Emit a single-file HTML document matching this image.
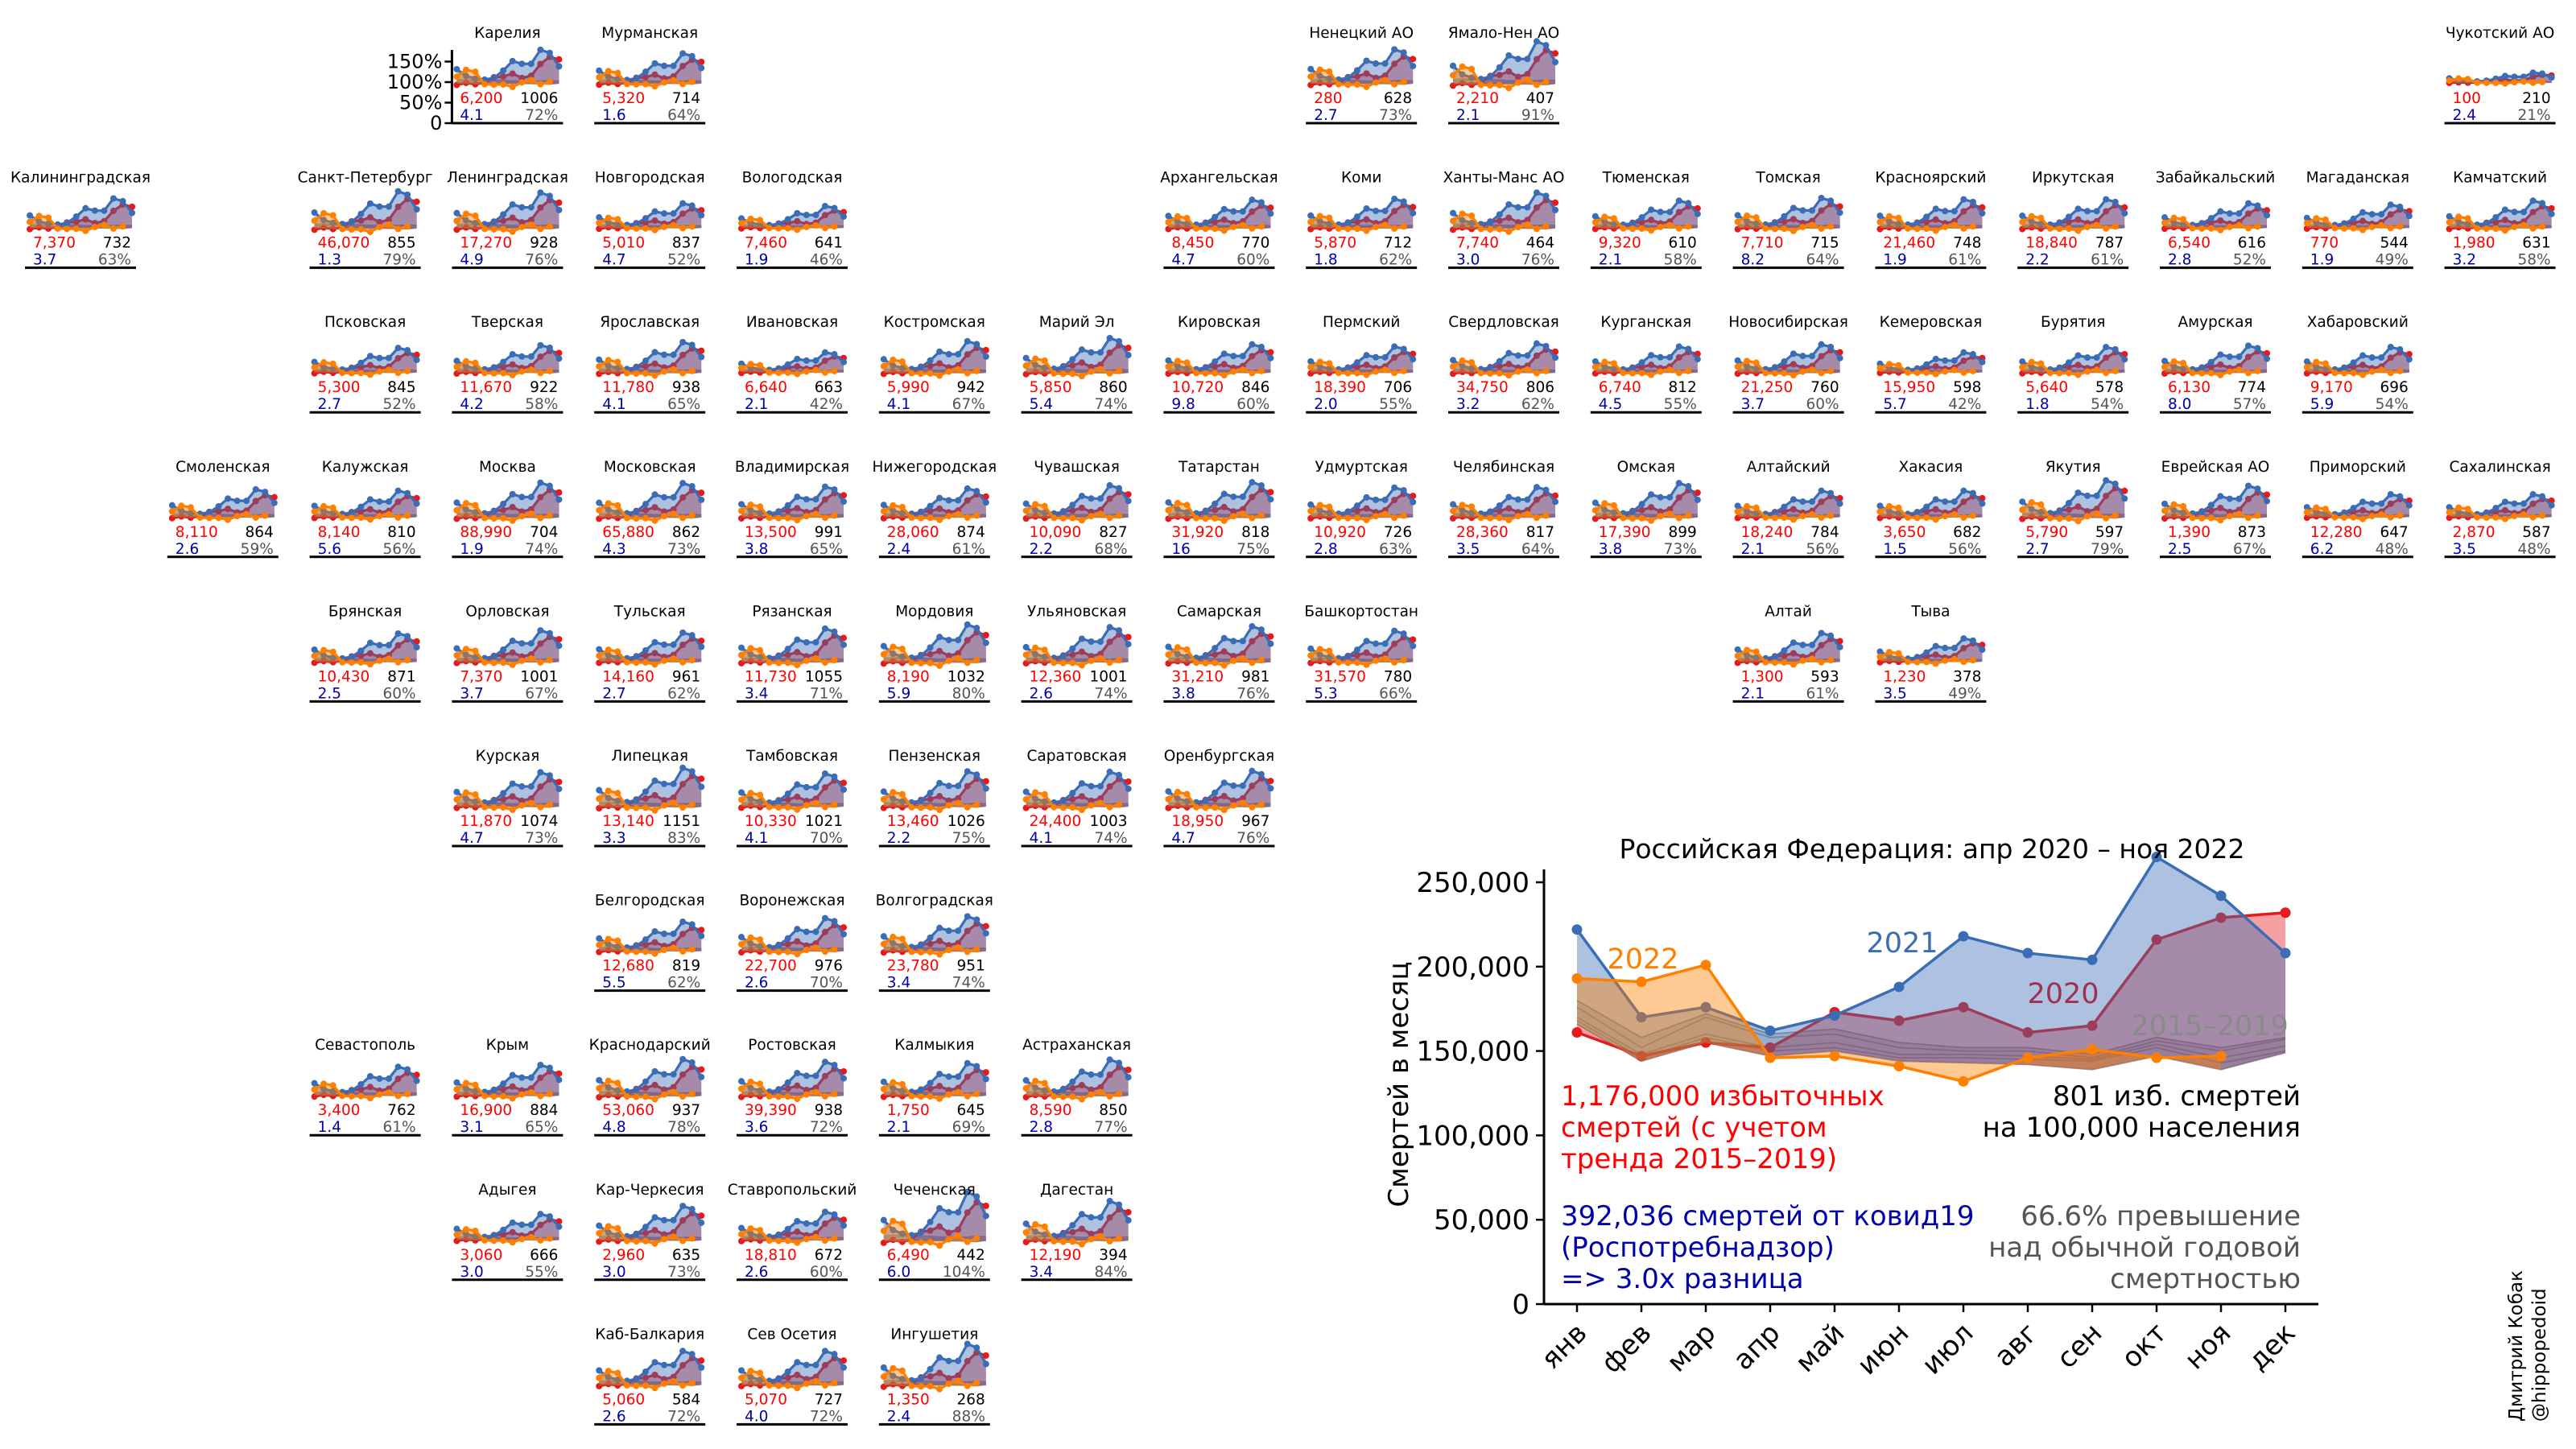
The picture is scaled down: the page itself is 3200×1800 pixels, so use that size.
<!DOCTYPE html>
<html><head><meta charset="utf-8">
<style>
html,body{margin:0;padding:0;background:#fff;}
svg{display:block;font-family:"DejaVu Sans","Liberation Sans",sans-serif;}
</style></head>
<body>
<svg id="root" width="3200" height="1800" viewBox="0 0 3200 1800" xmlns="http://www.w3.org/2000/svg"></svg>
<script>
// ---------- main chart data (thousands of deaths per month) ----------
const months=['янв','фев','мар','апр','май','июн','июл','авг','сен','окт','ноя','дек'];
const y2020=[161,147,155,152,173,168,176,161,165,216,229,232];
const y2021=[222,170,176,162,171,188,218,208,204,265,242,208];
const y2022=[193,191,201,146,147,141,132,146,151,146,147];
const b2015=[180,158,172,160,163,155,152,152,148,158,152,158];
const b2016=[176,152,170,158,160,152,150,150,146,156,150,157];
const b2017=[170,148,160,152,155,148,148,147,145,154,146,153];
const b2018=[168,146,158,150,152,146,146,145,144,152,143,150];
const b2019=[166,144,155,147,150,144,143,142,139,147,139,149];
const yTicks=[0,50000,100000,150000,200000,250000];
const yTickLabels=['0','50,000','100,000','150,000','200,000','250,000'];

// ---------- regions ----------
const regionNames=['Карелия','Мурманская','Ненецкий АО','Ямало-Нен АО','Чукотский АО',
'Калининградская','Санкт-Петербург','Ленинградская','Новгородская','Вологодская','Архангельская','Коми','Ханты-Манс АО','Тюменская','Томская','Красноярский','Иркутская','Забайкальский','Магаданская','Камчатский',
'Псковская','Тверская','Ярославская','Ивановская','Костромская','Марий Эл','Кировская','Пермский','Свердловская','Курганская','Новосибирская','Кемеровская','Бурятия','Амурская','Хабаровский',
'Смоленская','Калужская','Москва','Московская','Владимирская','Нижегородская','Чувашская','Татарстан','Удмуртская','Челябинская','Омская','Алтайский','Хакасия','Якутия','Еврейская АО','Приморский','Сахалинская',
'Брянская','Орловская','Тульская','Рязанская','Мордовия','Ульяновская','Самарская','Башкортостан','Алтай','Тыва',
'Курская','Липецкая','Тамбовская','Пензенская','Саратовская','Оренбургская',
'Белгородская','Воронежская','Волгоградская',
'Севастополь','Крым','Краснодарский','Ростовская','Калмыкия','Астраханская',
'Адыгея','Кар-Черкесия','Ставропольский','Чеченская','Дагестан',
'Каб-Балкария','Сев Осетия','Ингушетия'];
const regionCol=[3,4,9,10,17, 0,2,3,4,5,8,9,10,11,12,13,14,15,16,17, 2,3,4,5,6,7,8,9,10,11,12,13,14,15,16, 1,2,3,4,5,6,7,8,9,10,11,12,13,14,15,16,17, 2,3,4,5,6,7,8,9,12,13, 3,4,5,6,7,8, 4,5,6, 2,3,4,5,6,7, 3,4,5,6,7, 4,5,6];
const regionRow=[0,0,0,0,0, 1,1,1,1,1,1,1,1,1,1,1,1,1,1,1, 2,2,2,2,2,2,2,2,2,2,2,2,2,2,2, 3,3,3,3,3,3,3,3,3,3,3,3,3,3,3,3,3, 4,4,4,4,4,4,4,4,4,4, 5,5,5,5,5,5, 6,6,6, 7,7,7,7,7,7, 8,8,8,8,8, 9,9,9];
const regionExcess=['6,200','5,320','280','2,210','100','7,370','46,070','17,270','5,010','7,460','8,450','5,870','7,740','9,320','7,710','21,460','18,840','6,540','770','1,980','5,300','11,670','11,780','6,640','5,990','5,850','10,720','18,390','34,750','6,740','21,250','15,950','5,640','6,130','9,170','8,110','8,140','88,990','65,880','13,500','28,060','10,090','31,920','10,920','28,360','17,390','18,240','3,650','5,790','1,390','12,280','2,870','10,430','7,370','14,160','11,730','8,190','12,360','31,210','31,570','1,300','1,230','11,870','13,140','10,330','13,460','24,400','18,950','12,680','22,700','23,780','3,400','16,900','53,060','39,390','1,750','8,590','3,060','2,960','18,810','6,490','12,190','5,060','5,070','1,350'];
const regionPer100k=[1006,714,628,407,210,732,855,928,837,641,770,712,464,610,715,748,787,616,544,631,845,922,938,663,942,860,846,706,806,812,760,598,578,774,696,864,810,704,862,991,874,827,818,726,817,899,784,682,597,873,647,587,871,1001,961,1055,1032,1001,981,780,593,378,1074,1151,1021,1026,1003,967,819,976,951,762,884,937,938,645,850,666,635,672,442,394,584,727,268];
const regionRatio=['4.1','1.6','2.7','2.1','2.4','3.7','1.3','4.9','4.7','1.9','4.7','1.8','3.0','2.1','8.2','1.9','2.2','2.8','1.9','3.2','2.7','4.2','4.1','2.1','4.1','5.4','9.8','2.0','3.2','4.5','3.7','5.7','1.8','8.0','5.9','2.6','5.6','1.9','4.3','3.8','2.4','2.2','16','2.8','3.5','3.8','2.1','1.5','2.7','2.5','6.2','3.5','2.5','3.7','2.7','3.4','5.9','2.6','3.8','5.3','2.1','3.5','4.7','3.3','4.1','2.2','4.1','4.7','5.5','2.6','3.4','1.4','3.1','4.8','3.6','2.1','2.8','3.0','3.0','2.6','6.0','3.4','2.6','4.0','2.4'];
const regionPct=[72,64,73,91,21,63,79,76,52,46,60,62,76,58,64,61,61,52,49,58,52,58,65,42,67,74,60,55,62,55,60,42,54,57,54,59,56,74,73,65,61,68,75,63,64,73,56,56,79,67,48,48,60,67,62,71,80,74,76,66,61,49,73,83,70,75,74,76,62,70,74,61,65,78,72,69,77,55,73,60,104,84,72,72,88];

const NS='http://www.w3.org/2000/svg';
const root=document.getElementById('root');
function mk(tag,attrs,parent,text){const e=document.createElementNS(NS,tag);for(const k in attrs)e.setAttribute(k,attrs[k]);if(text!==undefined)e.textContent=text;(parent||root).appendChild(e);return e;}

const baselines=[b2015,b2016,b2017,b2018,b2019];
const baseMean=months.map((m,i)=>baselines.reduce((s,b)=>s+b[i],0)/5);
const COL={blue:'#3a6db5',red:'#e41a1c',orange:'#ff7f00'};
const FILL={blue:'rgba(58,109,181,0.42)',red:'rgba(228,26,28,0.42)',orange:'rgba(255,127,0,0.42)'};

function series(g,xf,yf,vals,base,color,fill,lw,r,name){
  const pts=vals.map((v,i)=>[xf(i),yf(v)]);
  const bpts=vals.map((v,i)=>[xf(i),yf(base[i])]).reverse();
  const poly=mk('polygon',{points:pts.concat(bpts).map(p=>p.join(',')).join(' '),fill:fill,stroke:'none'},g);
  
  
  const line=mk('polyline',{points:pts.map(p=>p.join(',')).join(' '),fill:'none',stroke:color,'stroke-width':lw,'stroke-linejoin':'round'},g);
  
  
  pts.forEach((p,i)=>{const c=mk('circle',{cx:p[0],cy:p[1],r:r,fill:color},g);
    
    });
}

// ---------- small multiples ----------
regionNames.forEach((nm,i)=>{
  const L=31+regionCol[i]*176.8, B=153+regionRow[i]*179.6;
  const g=mk('g',{});
  
  
  const k=regionPct[i]/66.6;
  const xf=m=>L+6+m*11.55;
  const yf=p=>B-p*0.51;
  const norm=arr=>arr.map((v,j)=>100+(v/baseMean[j]*100-100)*k);
  const nb=baselines.map(b=>norm(b));
  const lowBase=nb[4];
  const band=mk('polygon',{points:nb[0].map((v,j)=>xf(j)+','+yf(v)).concat(lowBase.map((v,j)=>xf(j)+','+yf(v)).reverse()).join(' '),fill:'rgba(110,110,110,0.28)'},g);
  
  
  nb.forEach(b=>{const l=mk('polyline',{points:b.map((v,j)=>xf(j)+','+yf(v)).join(' '),fill:'none',stroke:'#999','stroke-width':1.3},g);
    
    });
  series(g,xf,yf,norm(y2020),lowBase,COL.red,FILL.red,3.2,4,'series-2020');
  series(g,xf,yf,norm(y2021),lowBase,COL.blue,FILL.blue,3.2,4,'series-2021');
  series(g,xf,yf,norm(y2022),lowBase,COL.orange,FILL.orange,3.2,4,'series-2022');
  const t=mk('text',{x:L+69,y:B-106,'text-anchor':'middle','font-size':18.5,fill:'#000'},g,nm);
  
  
  const a=mk('text',{x:L+10,y:B-25,'font-size':18.5,fill:'#ff0000'},g,regionExcess[i]);
  
  
  const b=mk('text',{x:L+132,y:B-25,'font-size':18.5,fill:'#000','text-anchor':'end'},g,String(regionPer100k[i]));
  
  
  const c=mk('text',{x:L+10,y:B-4,'font-size':18.5,fill:'#0000aa'},g,regionRatio[i]);
  
  
  const d=mk('text',{x:L+132,y:B-4,'font-size':18.5,fill:'#555','text-anchor':'end'},g,regionPct[i]+'%');
  
  
  const ax=mk('line',{x1:L,x2:L+138,y1:B,y2:B,stroke:'#000','stroke-width':3},g);
  
  
  if(i===0){
    const sp=mk('line',{x1:L,x2:L,y1:62,y2:B,stroke:'#000','stroke-width':3},g);
    
    
    [0,50,100,150].forEach(p=>{
      mk('line',{x1:L-9,x2:L,y1:yf(p),y2:yf(p),stroke:'#000','stroke-width':2.5},g);
      const tl=mk('text',{x:L-12,y:yf(p)+8,'text-anchor':'end','font-size':24,fill:'#000'},g,p===0?'0':p+'%');
      
      
    });
  }
});

// ---------- main chart ----------
const X0=1959,DX=80,Y0=1620,PPK=2.096;
const mx=m=>X0+m*DX;
const my=v=>Y0-v*PPK;
const mg=mk('g',{});


const gb=mk('polygon',{points:b2015.map((v,j)=>mx(j)+','+my(v)).concat(b2019.map((v,j)=>mx(j)+','+my(v)).reverse()).join(' '),fill:'rgba(110,110,110,0.25)'},mg);


baselines.forEach(b=>{const l=mk('polyline',{points:b.map((v,j)=>mx(j)+','+my(v)).join(' '),fill:'none',stroke:'#999','stroke-width':1.8},mg);
  
  });
series(mg,mx,my,y2020,b2019,COL.red,FILL.red,3.5,6.5,'main-2020');
series(mg,mx,my,y2021,b2019,COL.blue,FILL.blue,3.5,6.5,'main-2021');
series(mg,mx,my,y2022,b2019,COL.orange,FILL.orange,3.5,6.5,'main-2022');
const yax=mk('line',{x1:1918,x2:1918,y1:1080,y2:Y0,stroke:'#000','stroke-width':3},mg);


const xax=mk('line',{x1:1918,x2:2880,y1:Y0,y2:Y0,stroke:'#000','stroke-width':3},mg);


yTicks.forEach((v,i)=>{
  mk('line',{x1:1908,x2:1918,y1:my(v/1000),y2:my(v/1000),stroke:'#000','stroke-width':2.5},mg);
  const t=mk('text',{x:1900,y:my(v/1000)+12,'text-anchor':'end','font-size':34,fill:'#000'},mg,yTickLabels[i]);
  
  
});
months.forEach((m,i)=>{
  mk('line',{x1:mx(i),x2:mx(i),y1:Y0,y2:Y0+10,stroke:'#000','stroke-width':2.5},mg);
  const t=mk('text',{x:mx(i)+14,y:Y0+38,'text-anchor':'end','font-size':34,fill:'#000',transform:`rotate(-45 ${mx(i)+14} ${Y0+38})`},mg,m);
  
  
});
function txt(x,y,s,size,fill,anchor,name,extra){
  const t=mk('text',Object.assign({x:x,y:y,'font-size':size,fill:fill,'text-anchor':anchor||'start'},extra||{}),mg,s);
  
  
  return t;
}
txt(2400,1066,'Российская Федерация: апр 2020 – ноя 2022',33,'#000','middle','chart-title');
txt(1737,1347,'Смертей в месяц',34,'#000','middle','y-axis-title',{transform:'rotate(-90 1737 1347)',dy:'12'});
txt(2041,1203,'2022',35,COL.orange,'middle','label-2022');
txt(2363,1183,'2021',35,COL.blue,'middle','label-2021');
txt(2563,1246,'2020',35,'#a03050','middle','label-2020');
txt(2745,1286,'2015–2019',35,'#8a8a8a','middle','label-2015-2019');
txt(1939,1373,'1,176,000 избыточных',34,'#ff0000','start','excess-total-line1');
txt(1939,1412,'смертей (с учетом',34,'#ff0000','start','excess-total-line2');
txt(1939,1451,'тренда 2015–2019)',34,'#ff0000','start','excess-total-line3');
txt(2858,1373,'801 изб. смертей',34,'#000','end','per100k-line1');
txt(2858,1412,'на 100,000 населения',34,'#000','end','per100k-line2');
txt(1939,1522,'392,036 смертей от ковид19',34,'#0000aa','start','covid-line1');
txt(1939,1561,'(Роспотребнадзор)',34,'#0000aa','start','covid-line2');
txt(1939,1600,'=> 3.0x разница',34,'#0000aa','start','covid-line3');
txt(2858,1522,'66.6% превышение',34,'#555','end','percent-line1');
txt(2858,1561,'над обычной годовой',34,'#555','end','percent-line2');
txt(2858,1600,'смертностью',34,'#555','end','percent-line3');
txt(3133,1766,'Дмитрий Кобак',23,'#000','start','credit-author',{transform:'rotate(-90 3133 1766)'});
txt(3162,1766,'@hippopedoid',23,'#000','start','credit-handle',{transform:'rotate(-90 3162 1766)'});
</script>
</body></html>
